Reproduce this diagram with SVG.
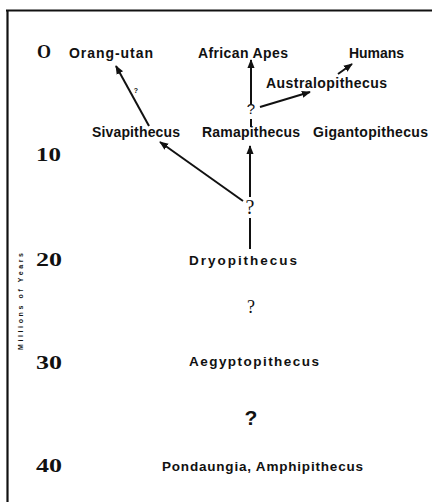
<svg xmlns="http://www.w3.org/2000/svg" width="432" height="502" viewBox="0 0 432 502">
<style>
.lbl{font-family:"Liberation Sans",Arial,sans-serif;font-weight:bold;font-size:14px;fill:#111}
.lt{font-family:"Liberation Sans",Arial,sans-serif;font-weight:bold;font-size:13.5px;fill:#111}
.num{font-family:"Liberation Serif","Times New Roman",serif;font-weight:bold;font-size:18px;fill:#111}
.q{fill:#111;text-anchor:middle}
.edge{stroke:#111;stroke-width:2;fill:none}
</style>
<defs>
<marker id="ah" viewBox="0 0 10 10" refX="9" refY="5" markerWidth="4.5" markerHeight="4.5" orient="auto" markerUnits="strokeWidth">
<path d="M0,1 L10,5 L0,9 z" fill="#111"/>
</marker>
</defs>
<rect width="432" height="502" fill="#fff"/>
<g id="frame">
<line x1="6" y1="10.5" x2="432" y2="10.5" stroke="#111" stroke-width="2.2"/>
<line x1="7.5" y1="10" x2="7.5" y2="502" stroke="#111" stroke-width="2.2"/>
</g>
<g id="axis">
<text class="num" x="37" y="58" textLength="14" lengthAdjust="spacingAndGlyphs">O</text>
<text class="num" x="36" y="161" textLength="25" lengthAdjust="spacingAndGlyphs">10</text>
<text class="num" x="36" y="266" textLength="26" lengthAdjust="spacingAndGlyphs">20</text>
<text class="num" x="36" y="369" textLength="26" lengthAdjust="spacingAndGlyphs">30</text>
<text class="num" x="36" y="472" textLength="26" lengthAdjust="spacingAndGlyphs">40</text>
<text transform="translate(23,350) rotate(-90)" font-family="Liberation Sans,Arial,sans-serif" font-weight="bold" font-size="7" fill="#111" textLength="97" lengthAdjust="spacing">Millions of Years</text>
</g>
<g id="connectors">
<line class="edge" x1="149" y1="126" x2="116" y2="66" marker-end="url(#ah)"/>
<line class="edge" x1="251" y1="104" x2="251" y2="60" marker-end="url(#ah)"/>
<line class="edge" x1="260" y1="107" x2="310" y2="92" marker-end="url(#ah)"/>
<line class="edge" x1="338" y1="74" x2="352" y2="64" marker-end="url(#ah)"/>
<line class="edge" x1="251" y1="119" x2="251" y2="127"/>
<line class="edge" x1="250" y1="197" x2="250" y2="146" marker-end="url(#ah)"/>
<line class="edge" x1="243" y1="201" x2="160" y2="142" marker-end="url(#ah)"/>
<line class="edge" x1="250" y1="218" x2="250" y2="249"/>
</g>
<g id="q-orang"><text class="q" x="136" y="93" style="font-family:'Liberation Sans',sans-serif;font-size:7px;font-weight:bold">?</text></g>
<g id="q-upper"><text class="q" x="251" y="114" style="font-family:'Liberation Sans',sans-serif;font-size:15px">?</text></g>
<g id="q-lower"><text class="q" x="250" y="214" style="font-family:'Liberation Serif',serif;font-size:20px">?</text></g>
<g id="q-mid"><text class="q" x="251" y="313" style="font-family:'Liberation Serif',serif;font-size:18px">?</text></g>
<g id="q-bold"><text class="q" x="251" y="425" style="font-family:'Liberation Sans',sans-serif;font-size:21px;font-weight:bold">?</text></g>
<g id="orang-utan"><text class="lbl" x="69" y="58" textLength="84" lengthAdjust="spacing">Orang-utan</text></g>
<g id="african-apes"><text class="lbl" x="198" y="58" textLength="90" lengthAdjust="spacing">African Apes</text></g>
<g id="humans"><text class="lbl" x="349" y="58" textLength="55" lengthAdjust="spacing">Humans</text></g>
<g id="australopithecus"><text class="lbl" x="266" y="88" textLength="121" lengthAdjust="spacing">Australopithecus</text></g>
<g id="sivapithecus"><text class="lbl" x="92" y="137" textLength="88" lengthAdjust="spacing">Sivapithecus</text></g>
<g id="ramapithecus"><text class="lbl" x="202" y="137" textLength="98" lengthAdjust="spacing">Ramapithecus</text></g>
<g id="gigantopithecus"><text class="lbl" x="313" y="137" textLength="115" lengthAdjust="spacing">Gigantopithecus</text></g>
<g id="dryopithecus"><text class="lt" x="189" y="265" textLength="108" lengthAdjust="spacing">Dryopithecus</text></g>
<g id="aegyptopithecus"><text class="lt" x="189" y="366" textLength="130" lengthAdjust="spacing">Aegyptopithecus</text></g>
<g id="pondaungia"><text class="lt" x="162" y="471" textLength="201" lengthAdjust="spacing">Pondaungia, Amphipithecus</text></g>
</svg>
